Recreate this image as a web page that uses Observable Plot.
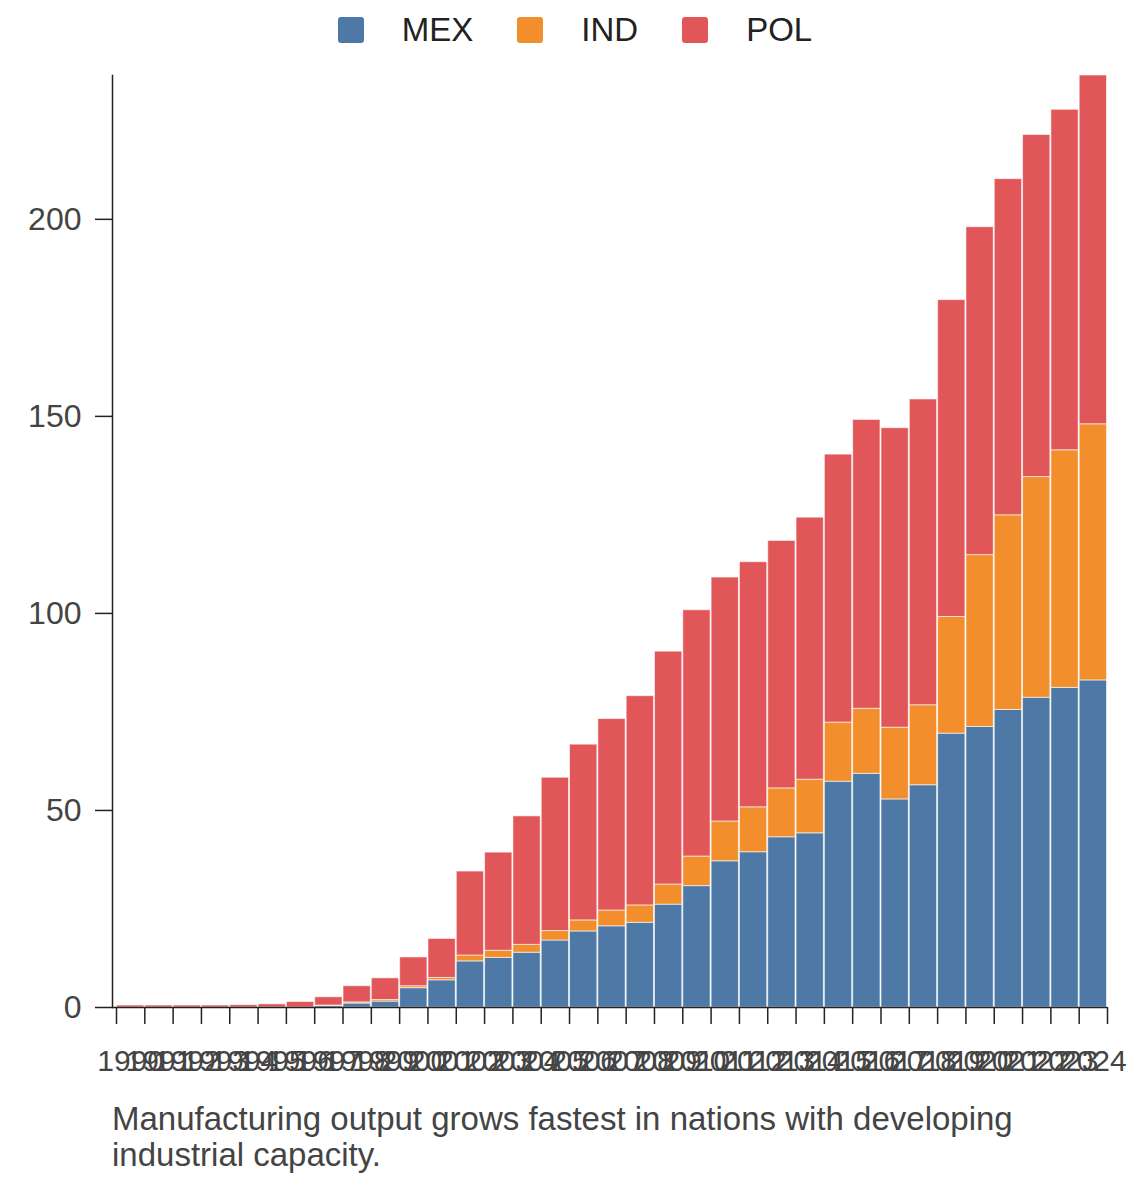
<!DOCTYPE html>
<html>
<head>
<meta charset="utf-8">
<script src="https://cdn.jsdelivr.net/npm/d3@7"></script>
<script src="https://cdn.jsdelivr.net/npm/@observablehq/plot@0.6"></script>
<style>
  html, body { margin: 0; padding: 0; background: #fff; }
  body { width: 1140px; font-family: "Liberation Sans", Arial, sans-serif; }
  #legend { height: 60px; display: flex; justify-content: center; align-items: center; gap: 0; font-size: 33px; color: #222; padding-left: 10px; box-sizing: border-box; }
  #legend .item { display: flex; align-items: center; margin: 0 22px; }
  #legend .sw { width: 26px; height: 26px; border-radius: 3px; margin-right: 38px; }
  #chart svg { display: block; }
  #caption { margin: 4px 0 0 112px; width: 1000px; font-size: 33px; line-height: 36px; color: #444; }
</style>
</head>
<body>
<div id="legend"></div>
<div id="chart"></div>
<div id="caption"></div>
<script>
const years = [1990,1991,1992,1993,1994,1995,1996,1997,1998,1999,2000,2001,2002,2003,2004,2005,2006,2007,2008,2009,2010,2011,2012,2013,2014,2015,2016,2017,2018,2019,2020,2021,2022,2023,2024];
const seriesNames = ["MEX", "IND", "POL"];
const seriesColors = ["#4e79a7", "#f28e2b", "#e15759"];
const MEX = [0,0,0,0,0,0,0,0.4,1.0,1.5,4.9,6.9,11.7,12.6,13.9,17.0,19.3,20.6,21.5,26.1,30.8,37.1,39.4,43.2,44.2,57.3,59.3,52.8,56.4,69.5,71.2,75.5,78.6,81.1,83.0];
const IND = [0,0,0,0,0,0,0,0.1,0.3,0.4,0.5,0.6,1.5,1.8,2.0,2.4,2.8,4.0,4.4,5.1,7.5,10.1,11.4,12.4,13.6,15.0,16.5,18.2,20.3,29.6,43.6,49.4,56.0,60.3,65.0];
const POL = [0.5,0.5,0.5,0.5,0.6,0.8,1.4,2.1,4.1,5.5,7.3,9.9,21.3,24.9,32.6,38.9,44.6,48.6,53.1,59.1,62.5,61.9,62.2,62.8,66.5,68.0,73.3,76.0,77.6,80.4,83.2,85.3,86.8,86.4,88.5];
const yTicks = [0, 50, 100, 150, 200];
const caption = "Manufacturing output grows fastest in nations with developing industrial capacity.";

const valuesBySeries = {MEX, IND, POL};
const data = [];
years.forEach((year, i) => {
  seriesNames.forEach(s => data.push({year, series: s, value: valuesBySeries[s][i]}));
});

// legend
const legend = document.getElementById("legend");
seriesNames.forEach((s, i) => {
  const item = document.createElement("div");
  item.className = "item";
  item.innerHTML = `<span class="sw" style="background:${seriesColors[i]}"></span><span>${s}</span>`;
  legend.appendChild(item);
});

const chart = Plot.plot({
  width: 1140,
  height: 1037,
  marginTop: 15,
  marginBottom: 90,
  marginLeft: 112,
  marginRight: 33,
  style: {fontFamily: "'Liberation Sans', Arial, sans-serif", background: "#fff"},
  x: {type: "linear", domain: [years[0], years[years.length - 1] + 1], insetLeft: 4, axis: null},
  y: {axis: null},
  color: {domain: seriesNames, range: seriesColors},
  marks: [
    Plot.rectY(data, {x: "year", interval: 1, y: "value", fill: "series", order: seriesNames,
      stroke: "white", strokeWidth: 1, strokeOpacity: 0.6, insetLeft: 0.5, insetRight: 0.5}),
    Plot.frame({anchor: "left", stroke: "#222", strokeWidth: 1.5}),
    Plot.ruleY([0], {stroke: "#222", strokeWidth: 1.5}),
    Plot.axisY({ticks: yTicks, tickSize: 17, tickPadding: 14, fontSize: 32, stroke: "#222", fill: "#444", strokeWidth: 1.5, label: null}),
    Plot.axisX([...years, years[years.length - 1] + 1], {tickSize: 17, tickFormat: () => "", stroke: "#222", strokeWidth: 1.5, label: null}),
    Plot.axisX(years.map(y => y + 0.5), {tickSize: 0, tickPadding: 42, tickFormat: d => String(d - 0.5), fontSize: 30, fill: "#444", label: null})
  ]
});
document.getElementById("chart").appendChild(chart);
document.getElementById("caption").textContent = caption;
</script>
</body>
</html>
